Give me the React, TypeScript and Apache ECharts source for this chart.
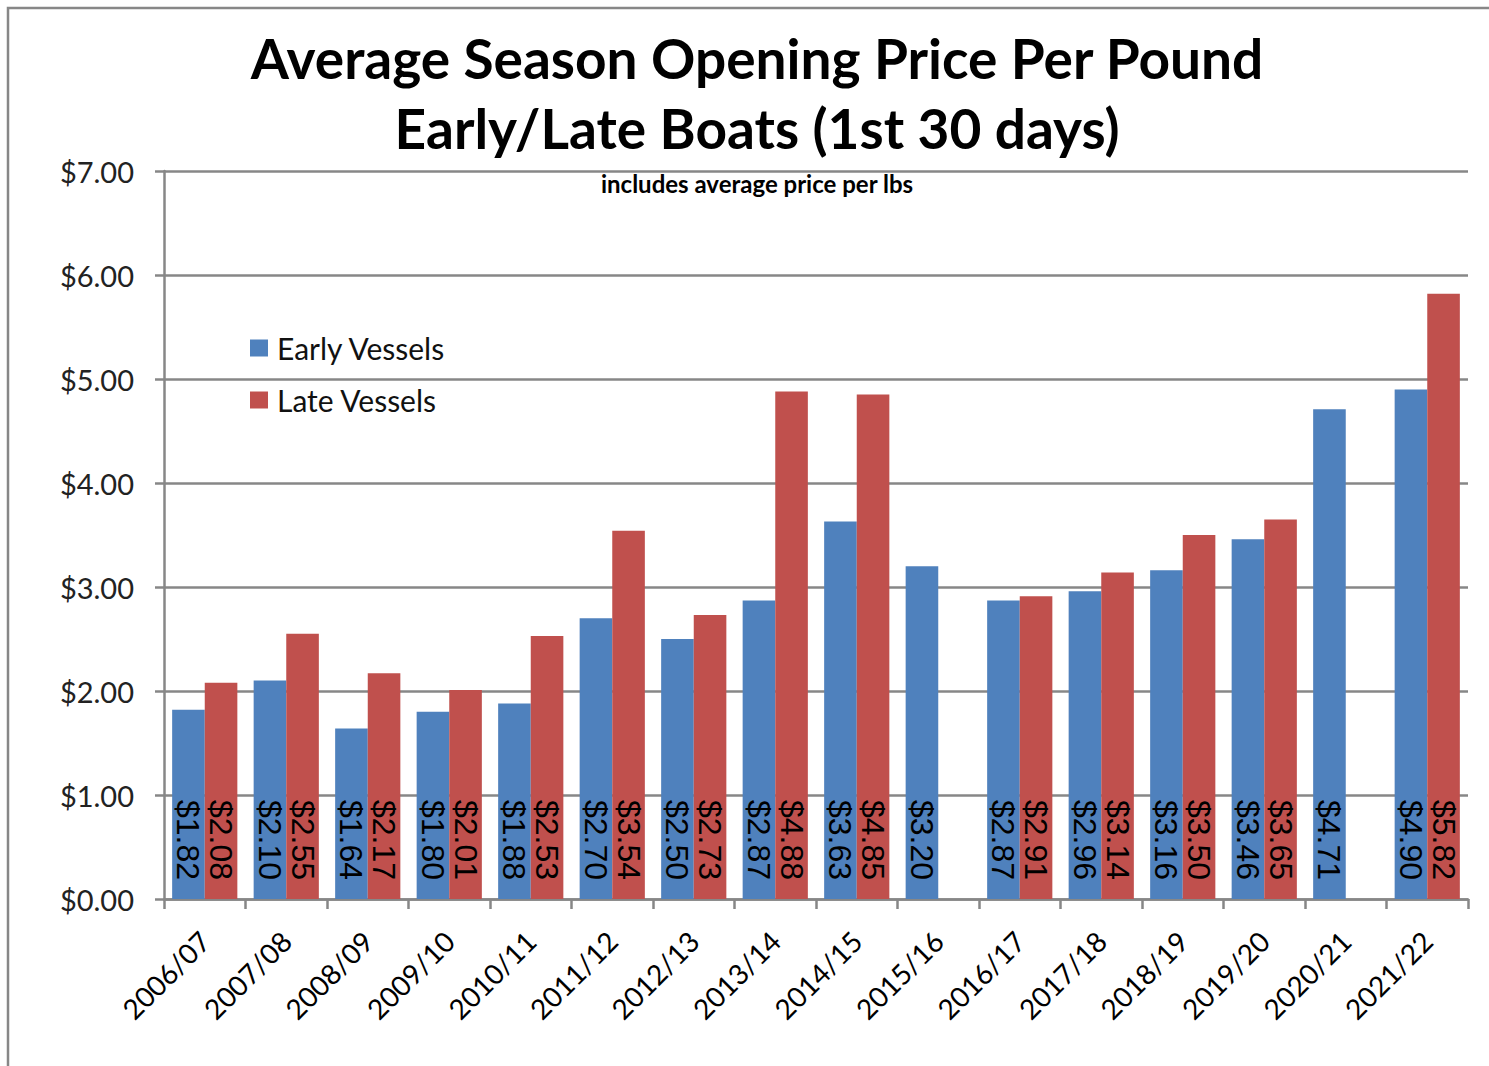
import React, { useEffect, useRef } from "react";
import * as echarts from "echarts";

const categories = [
  "2006/07", "2007/08", "2008/09", "2009/10", "2010/11", "2011/12", "2012/13", "2013/14",
  "2014/15", "2015/16", "2016/17", "2017/18", "2018/19", "2019/20", "2020/21", "2021/22",
];
const earlyVessels = [1.82, 2.10, 1.64, 1.80, 1.88, 2.70, 2.50, 2.87, 3.63, 3.20, 2.87, 2.96, 3.16, 3.46, 4.71, 4.90];
const lateVessels = [2.08, 2.55, 2.17, 2.01, 2.53, 3.54, 2.73, 4.88, 4.85, null, 2.91, 3.14, 3.50, 3.65, null, 5.82];
const yTicks = [0, 1, 2, 3, 4, 5, 6, 7];

const titleLine1 = "Average Season Opening Price Per Pound";
const titleLine2 = "Early/Late Boats (1st 30 days)";
const subtitle = "includes average price per lbs";

const FONT = "Lato, 'Noto Sans', sans-serif";
const GRAY = "#878787";

export default function App() {
  const ref = useRef<HTMLDivElement>(null);
  useEffect(() => {
    if (!ref.current) return;
    const chart = echarts.init(ref.current, undefined, { renderer: "svg" });
    const labelCfg = {
      show: true,
      position: "insideBottom",
      rotate: -90,
      align: "right",
      verticalAlign: "middle",
      distance: 19,
      color: "#000",
      fontSize: 32,
      fontFamily: "'Liberation Sans', Arial, sans-serif",
      formatter: (p: any) => "$" + Number(p.value).toFixed(2),
    };
    chart.setOption({
      animation: false,
      backgroundColor: "#fff",
      graphic: [
        {
          type: "rect",
          shape: { x: 8, y: 8, width: 1700, height: 1300 },
          style: { fill: "none", stroke: GRAY, lineWidth: 2.5 },
          silent: true,
        },
        {
          type: "text",
          x: 757,
          y: 85,
          style: { text: titleLine1, font: `bold 55px ${FONT}`, textAlign: "center", textVerticalAlign: "bottom", fill: "#000" },
        },
        {
          type: "text",
          x: 757,
          y: 155,
          style: { text: titleLine2, font: `bold 55px ${FONT}`, textAlign: "center", textVerticalAlign: "bottom", fill: "#000" },
        },
        {
          type: "text",
          x: 757,
          y: 183,
          style: { text: subtitle, font: `bold 24px ${FONT}`, textAlign: "center", textVerticalAlign: "middle", fill: "#000" },
        },
      ],
      legend: {
        orient: "vertical",
        left: 245,
        top: 327,
        itemWidth: 18,
        itemHeight: 17,
        itemGap: 20,
        icon: "rect",
        textStyle: { fontSize: 30, fontFamily: FONT, color: "#111", lineHeight: 32, padding: [0, 0, 0, 4] },
        data: ["Early Vessels", "Late Vessels"],
      },
      grid: { left: 164, right: 21, top: 171, bottom: 167, containLabel: false },
      xAxis: {
        type: "category",
        data: categories,
        axisLine: { lineStyle: { color: GRAY, width: 2.5 } },
        axisTick: { show: true, length: 10, lineStyle: { color: GRAY, width: 2.5 } },
        axisLabel: { rotate: 45, margin: 37, fontSize: 28, fontFamily: FONT, color: "#000", interval: 0 },
      },
      yAxis: {
        type: "value",
        min: 0,
        max: 7,
        interval: 1,
        axisLine: { show: true, lineStyle: { color: GRAY, width: 2.5 } },
        axisTick: { show: true, length: 9, lineStyle: { color: GRAY, width: 2.5 } },
        splitLine: { lineStyle: { color: GRAY, width: 2.5 } },
        axisLabel: {
          margin: 30,
          fontSize: 29,
          fontFamily: FONT,
          color: "#222",
          formatter: (v: number) => (yTicks.includes(v) ? "$" + v.toFixed(2) : ""),
        },
      },
      series: [
        {
          name: "Early Vessels",
          type: "bar",
          data: earlyVessels,
          itemStyle: { color: "#4F81BD" },
          barGap: "0%",
          barCategoryGap: "20%",
          label: labelCfg,
        },
        {
          name: "Late Vessels",
          type: "bar",
          data: lateVessels,
          itemStyle: { color: "#C0504D" },
          barGap: "0%",
          barCategoryGap: "20%",
          label: labelCfg,
        },
      ],
    });
    return () => chart.dispose();
  }, []);
  return (
    <div
      ref={ref}
      style={{ position: "fixed", left: 0, top: 0, width: 1489, height: 1066, background: "#fff" }}
    />
  );
}
